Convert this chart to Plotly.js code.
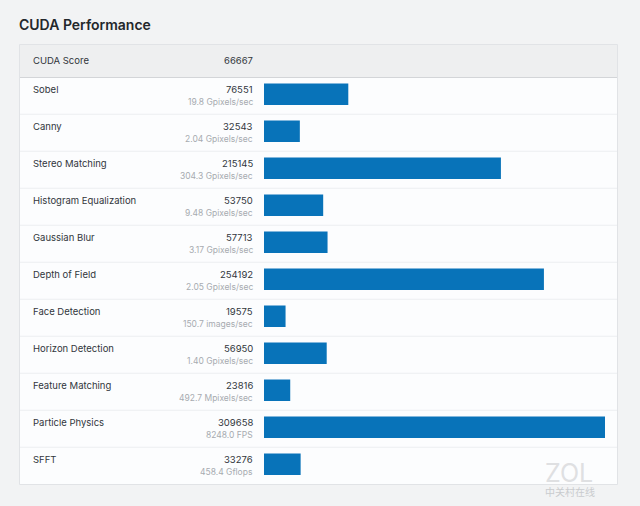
<!DOCTYPE html>
<html><head><meta charset="utf-8">
<script src="https://cdn.plot.ly/plotly-3.0.1.min.js"></script>
<style>html,body{margin:0;padding:0;background:#f2f3f4}#c{width:640px;height:506px}</style>
</head><body><div id="c"></div>
<script>
const chartTitle = "CUDA Performance";
const headerName = "CUDA Score";
const headerScore = "66667";
const categories = ["Sobel","Canny","Stereo Matching","Histogram Equalization","Gaussian Blur","Depth of Field","Face Detection","Horizon Detection","Feature Matching","Particle Physics","SFFT"];
const scores = [76551,32543,215145,53750,57713,254192,19575,56950,23816,309658,33276];
const rates = ["19.8 Gpixels/sec","2.04 Gpixels/sec","304.3 Gpixels/sec","9.48 Gpixels/sec","3.17 Gpixels/sec","2.05 Gpixels/sec","150.7 images/sec","1.40 Gpixels/sec","492.7 Mpixels/sec","8248.0 FPS","458.4 Gflops"];

const W = 640, H = 506;
const px = v => v / W, py = v => 1 - v / H;
const font = "Inter, 'Liberation Sans', sans-serif";
const dark = "#31363c", grey = "#a7abb0";

const shapes = [
  {type:"rect",xref:"paper",yref:"paper",x0:px(19.5),x1:px(617.5),y0:py(484.5),y1:py(44.5),fillcolor:"#fcfdfe",line:{color:"#e1e3e6",width:1},layer:"below"},
  {type:"rect",xref:"paper",yref:"paper",x0:px(20),x1:px(617),y0:py(77.5),y1:py(45),fillcolor:"#eeeff0",line:{width:0},layer:"below"},
  {type:"line",xref:"paper",yref:"paper",x0:px(20),x1:px(617),y0:py(77.5),y1:py(77.5),line:{color:"#d3d5d8",width:1},layer:"below"}
];
categories.slice(0,-1).forEach((c,i)=>shapes.push({type:"line",xref:"paper",yref:"y",x0:px(20),x1:px(617),y0:i+0.54,y1:i+0.54,line:{color:"#eceef1",width:1},layer:"below"}));

const annotations = [
  {xref:"paper",yref:"paper",x:px(31),y:py(60.5),text:headerName,xanchor:"left",yanchor:"middle",showarrow:false,font:{family:font,size:9.5,color:dark}},
  {xref:"paper",yref:"paper",x:px(254.5),y:py(60.5),text:headerScore,xanchor:"right",yanchor:"middle",showarrow:false,font:{family:font,size:9.5,color:dark}},
  {xref:"paper",yref:"paper",x:px(595),y:py(473),text:"ZOL",xanchor:"right",yanchor:"middle",showarrow:false,font:{family:font,size:25,color:"#dfe0e2"}},
  {xref:"paper",yref:"paper",x:px(597),y:py(491),text:"中关村在线",xanchor:"right",yanchor:"middle",showarrow:false,font:{family:"'Noto Sans CJK SC'",size:10,color:"#c9cbce"}}
];
categories.forEach((c,i)=>{
  annotations.push({xref:"paper",yref:"y",x:px(31),y:i,yshift:5,text:c,xanchor:"left",yanchor:"middle",showarrow:false,font:{family:font,size:9.5,color:dark}});
  annotations.push({xref:"paper",yref:"y",x:px(254.5),y:i,yshift:5,text:String(scores[i]),xanchor:"right",yanchor:"middle",showarrow:false,font:{family:font,size:9.5,color:dark}});
  annotations.push({xref:"paper",yref:"y",x:px(254.5),y:i,yshift:-7.5,text:rates[i],xanchor:"right",yanchor:"middle",showarrow:false,font:{family:font,size:8.5,color:grey}});
});

Plotly.newPlot("c",[{type:"bar",orientation:"h",x:scores,y:categories,marker:{color:"#0873b9",line:{width:0}},hoverinfo:"x+y"}],{
  width:W,height:H,
  paper_bgcolor:"#f2f3f4",plot_bgcolor:"rgba(0,0,0,0)",
  margin:{l:0,r:0,t:0,b:0},
  title:{text:chartTitle,x:px(19),xanchor:"left",y:py(25),yanchor:"middle",font:{family:font,size:14,weight:600,color:"#23272b"}},
  xaxis:{domain:[px(264),px(605)],range:[0,309658],visible:false,fixedrange:true},
  yaxis:{domain:[py(482.8),py(75.8)],type:"category",categoryorder:"array",categoryarray:categories,range:[10.5,-0.5],visible:false,fixedrange:true},
  bargap:0.42,showlegend:false,shapes,annotations
},{displayModeBar:false,staticPlot:true});
</script></body></html>
